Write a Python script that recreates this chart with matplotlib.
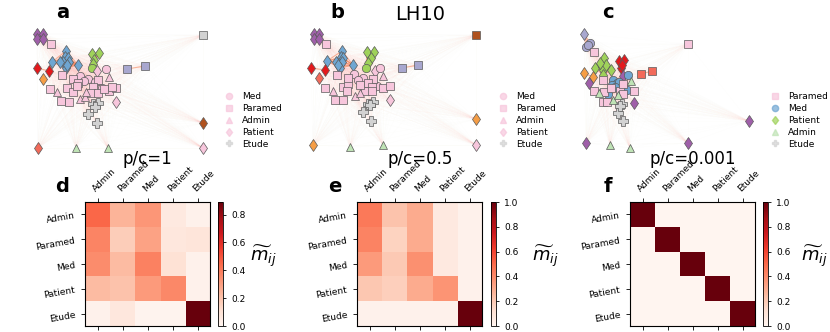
import numpy as np
import matplotlib
matplotlib.use("Agg")
import matplotlib.pyplot as plt
from matplotlib.collections import LineCollection
from matplotlib.lines import Line2D

W, H = 830, 332

groups = ['Admin', 'Paramed', 'Med', 'Patient', 'Etude']
shape = {'Med': 'o', 'Paramed': 's', 'Admin': '^', 'Patient': 'd', 'Etude': 'P'}
colors = {'pink': '#f7c6dc', 'blue': '#6fa6d2', 'green': '#9fd25a', 'red': '#e3191c',
          'orange': '#f59d45', 'purple': '#9f5fa9', 'lav': '#a8a7cf', 'grey': '#d2d2d2',
          'lgreen': '#bfe3b5', 'salmon': '#f26a5a', 'brown': '#b0521f'}

# network nodes: (x px, y px, group, colour)
nodes_a = (
    [(37, 34, 'Patient', 'purple'), (37, 39, 'Patient', 'purple'), (43, 34, 'Patient', 'purple'), (43, 39, 'Patient', 'purple'),
     (203, 35, 'Paramed', 'grey'), (51, 44, 'Paramed', 'pink')]
    + [(x, y, 'Patient', 'blue') for x, y in [(66, 51), (65, 57), (68, 58), (63, 62), (69, 62), (52, 62), (60, 62), (66, 68), (78, 65), (67, 65)]]
    + [(x, y, 'Patient', 'green') for x, y in [(92, 54), (99, 53), (94, 60), (93, 64)]] + [(92, 68, 'Med', 'green')]
    + [(37, 68, 'Patient', 'red'), (49, 71, 'Patient', 'red'), (43, 79, 'Patient', 'orange'),
       (127, 69, 'Paramed', 'lav'), (145, 66, 'Paramed', 'lav'), (97, 71, 'Patient', 'pink'), (116, 102, 'Patient', 'pink')]
    + [(x, y, 'Med', 'pink') for x, y in [(80, 76), (88, 79), (106, 69), (102, 88), (95, 82), (84, 81)]]
    + [(x, y, 'Paramed', 'pink') for x, y in [(62, 75), (73, 79), (78, 83), (50, 89), (67, 88), (73, 92), (61, 101), (69, 102), (98, 80),
                                              (93, 87), (91, 93), (98, 93), (109, 91), (116, 88), (112, 87), (77, 86), (104, 89)]]
    + [(x, y, 'Admin', 'pink') for x, y in [(109, 77), (57, 92), (80, 99), (85, 97), (86, 92)]]
    + [(x, y, 'Etude', 'grey') for x, y in [(93, 104), (98, 103), (95, 107), (88, 114), (97, 123)]]
    + [(203, 123, 'Patient', 'brown'), (38, 148, 'Patient', 'salmon'), (76, 148, 'Admin', 'lgreen'),
       (108, 148, 'Admin', 'lgreen'), (203, 148, 'Patient', 'pink')]
)

nodes_b = (
    [(314, 34, 'Patient', 'purple'), (314, 39, 'Patient', 'purple'), (319, 34, 'Patient', 'purple'), (319, 39, 'Patient', 'purple'),
     (476, 35, 'Paramed', 'brown'), (326, 44, 'Paramed', 'pink')]
    + [(x, y, 'Patient', 'blue') for x, y in [(342, 51), (341, 57), (343, 58), (336, 62), (327, 61), (342, 62), (340, 68), (353, 65), (338, 65)]]
    + [(x, y, 'Patient', 'green') for x, y in [(367, 52), (374, 52), (371, 58), (368, 63)]] + [(366, 68, 'Med', 'green')]
    + [(311, 68, 'Patient', 'red'), (325, 70, 'Patient', 'red'), (319, 78, 'Patient', 'salmon'),
       (402, 68, 'Paramed', 'lav'), (418, 65, 'Paramed', 'lav'), (375, 71, 'Patient', 'pink'), (390, 100, 'Patient', 'pink')]
    + [(x, y, 'Med', 'pink') for x, y in [(354, 74), (363, 78), (380, 68), (377, 86), (358, 80)]]
    + [(x, y, 'Paramed', 'pink') for x, y in [(337, 75), (325, 88), (343, 87), (348, 84), (335, 100), (343, 100), (348, 78), (373, 79),
                                              (368, 83), (372, 87), (365, 91), (372, 91), (383, 88), (390, 86), (347, 91), (360, 85)]]
    + [(x, y, 'Admin', 'pink') for x, y in [(383, 76), (333, 91), (355, 96), (360, 93)]]
    + [(x, y, 'Etude', 'grey') for x, y in [(368, 104), (373, 102), (370, 105), (363, 112), (371, 121)]]
    + [(476, 119, 'Patient', 'orange'), (313, 145, 'Patient', 'orange'), (350, 147, 'Admin', 'lgreen'),
       (383, 145, 'Admin', 'lgreen'), (476, 145, 'Patient', 'pink')]
)

nodes_c = (
    [(584, 34, 'Patient', 'lav'), (586, 47, 'Med', 'lav'), (590, 43, 'Med', 'lav'), (588, 45, 'Med', 'lav'),
     (594, 52, 'Paramed', 'pink'), (688, 44, 'Paramed', 'pink')]
    + [(x, y, 'Patient', 'green') for x, y in [(604, 58), (595, 68), (602, 67), (603, 70), (606, 65), (611, 70), (603, 75), (600, 63)]]
    + [(x, y, 'Patient', 'red') for x, y in [(619, 61), (624, 60), (621, 68), (622, 65)]]
    + [(584, 73, 'Patient', 'orange'), (593, 77, 'Patient', 'orange')]
    + [(x, y, 'Patient', 'purple') for x, y in [(589, 83), (623, 76), (634, 103), (749, 121), (586, 143), (688, 143)]]
    + [(641, 74, 'Paramed', 'salmon'), (652, 71, 'Paramed', 'salmon')]
    + [(x, y, 'Med', 'blue') for x, y in [(628, 75), (613, 80), (617, 83), (612, 85), (627, 90), (608, 94), (619, 82), (615, 87)]]
    + [(x, y, 'Paramed', 'pink') for x, y in [(603, 80), (594, 91), (604, 92), (611, 88), (620, 91), (623, 94), (634, 91),
                                              (603, 102), (607, 102), (623, 84)]]
    + [(x, y, 'Admin', 'lgreen') for x, y in [(631, 81), (599, 93), (613, 100), (618, 95), (610, 145), (630, 148)]]
    + [(x, y, 'Etude', 'grey') for x, y in [(622, 104), (618, 113), (623, 121), (620, 106)]]
)

legend_ab = [('Med', 'pink'), ('Paramed', 'pink'), ('Admin', 'pink'), ('Patient', 'pink'), ('Etude', 'grey')]
legend_c = [('Paramed', 'pink'), ('Med', 'blue'), ('Patient', 'green'), ('Admin', 'lgreen'), ('Etude', 'grey')]

# mixing matrices
m_d = np.array([[0.45, 0.24, 0.32, 0.06, 0.02],
                [0.37, 0.17, 0.29, 0.07, 0.08],
                [0.35, 0.22, 0.38, 0.10, 0.02],
                [0.22, 0.20, 0.31, 0.36, 0.02],
                [0.02, 0.07, 0.01, 0.01, 0.89]])
m_e = np.array([[0.45, 0.22, 0.30, 0.07, 0.02],
                [0.42, 0.17, 0.30, 0.07, 0.02],
                [0.35, 0.20, 0.38, 0.07, 0.02],
                [0.21, 0.18, 0.30, 0.37, 0.02],
                [0.02, 0.02, 0.02, 0.02, 1.00]])
m_f = np.eye(5)

fig = plt.figure(figsize=(W / 100, H / 100), dpi=100)


def fx(x):
    return x / W


def fy(y):
    return 1 - y / H


def draw_net(nodes, x0, x1, leg, legx, letter, letx):
    ax = fig.add_axes([fx(x0), fy(170), fx(x1 - x0), 170 / H])
    ax.set_xlim(x0, x1)
    ax.set_ylim(170, 0)
    ax.axis('off')
    xy = np.array([(n[0], n[1]) for n in nodes], float)
    segs = [[xy[i], xy[j]] for i in range(len(xy)) for j in range(i + 1, len(xy))]
    ax.add_collection(LineCollection(segs, colors='#fcbba1', linewidths=0.4, alpha=0.02, zorder=1))
    strong = [[xy[i], xy[j]] for i in range(len(xy)) for j in range(i + 1, len(xy))
              if nodes[i][3] == nodes[j][3] and nodes[i][3] not in ('pink', 'grey', 'lgreen')
              and np.hypot(*(xy[i] - xy[j])) < 20]
    ax.add_collection(LineCollection(strong, colors='#f07040', linewidths=0.8, alpha=0.5, zorder=1))
    for x, y, g, c in nodes:
        ax.plot(x, y, marker=shape[g], ms=6 if g != 'Etude' else 6.5, mfc=colors[c], mec='#5a5a5a',
                mew=0.5, ls='none', zorder=3)
    handles = [Line2D([], [], marker=shape[g], color=colors[c], ls='none', ms=4.5, alpha=0.7) for g, c in leg]
    fig.legend(handles, [g for g, c in leg], loc='upper left', bbox_to_anchor=(fx(legx), fy(92)),
               frameon=False, fontsize=6.5, handlelength=1.0, handletextpad=1.0, labelspacing=0.32,
               borderpad=0, borderaxespad=0)
    fig.text(fx(letx), fy(13), letter, fontsize=14, fontweight='bold', ha='center', va='center')


draw_net(nodes_a, 0, 277, legend_ab, 224, 'a', 63)
draw_net(nodes_b, 277, 553, legend_ab, 498, 'b', 337)
draw_net(nodes_c, 553, 830, legend_c, 770, 'c', 608)
fig.text(fx(420), fy(15), 'LH10', fontsize=14, ha='center', va='center')


def draw_heat(m, x0, letter, letx, title, titlex, cbx, labx, ticks):
    ax = fig.add_axes([fx(x0), fy(326), 125 / W, 124 / H])
    im = ax.imshow(m, cmap='Reds', vmin=0, vmax=m.max(), aspect='auto')
    ax.set_xticks(range(5))
    ax.set_yticks(range(5))
    ax.set_xticklabels(groups, rotation=45, ha='left', rotation_mode='anchor', fontsize=6.5)
    ax.set_yticklabels(groups, rotation=10, fontsize=6.5)
    ax.tick_params(top=True, bottom=True, labeltop=True, labelbottom=False, length=3, width=0.6)
    cax = fig.add_axes([fx(cbx), fy(326), 5 / W, 124 / H])
    cb = fig.colorbar(im, cax=cax, ticks=ticks)
    cb.ax.tick_params(labelsize=6.5, length=2.5, width=0.6)
    cb.outline.set_linewidth(0.6)
    fig.text(fx(labx), fy(256), r'$\widetilde{m}_{ij}$', fontsize=13, ha='left', va='center')
    fig.text(fx(letx), fy(186), letter, fontsize=14, fontweight='bold', ha='center', va='center')
    fig.text(fx(titlex), fy(159), title, fontsize=12, ha='center', va='center')


draw_heat(m_d, 85, 'd', 62, 'p/c=1', 147, 218, 250, [0, 0.2, 0.4, 0.6, 0.8])
draw_heat(m_e, 357, 'e', 335, 'p/c=0.5', 420, 491, 532, [0, 0.2, 0.4, 0.6, 0.8, 1.0])
draw_heat(m_f, 630, 'f', 608, 'p/c=0.001', 693, 763, 801, [0, 0.2, 0.4, 0.6, 0.8, 1.0])

fig.savefig('out.png', dpi=100)
